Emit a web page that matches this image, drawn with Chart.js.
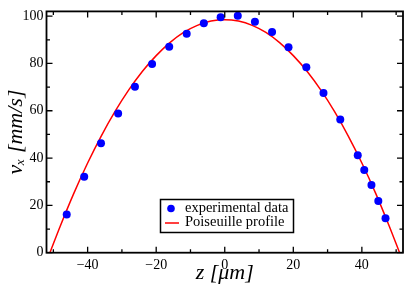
<!DOCTYPE html>
<html>
<head>
<meta charset="utf-8">
<script src="https://cdn.jsdelivr.net/npm/chart.js@4.4.1/dist/chart.umd.min.js"></script>
<style>
  html, body { margin: 0; padding: 0; background: #fff; }
  #wrap { width: 407px; height: 287px; }
</style>
</head>
<body>
<div id="wrap"><canvas id="chart" width="407" height="287"></canvas></div>
<script>
// experimental velocity profile
var zExp = [-46.1, -41.0, -36.1, -31.1, -26.2, -21.2, -16.2, -11.1, -6.1, -1.2, 3.8,
            8.8, 13.8, 18.6, 23.8, 28.8, 33.7, 38.8, 40.7, 42.8, 44.8, 46.9];
var vExp = [16.1, 32.1, 46.3, 58.8, 70.2, 79.8, 87.1, 92.5, 97.0, 99.5, 100.2,
            97.6, 93.3, 86.8, 78.4, 67.5, 56.3, 41.2, 35.0, 28.6, 21.9, 14.6];

// red Poiseuille curve, sampled along the drawn line
var zFit = [-51, -48, -44, -40, -36, -32, -28, -24, -20, -16, -12, -8, -4, 0,
            4, 8, 12, 16, 20, 24, 28, 32, 36, 40, 44, 48, 51];
var vFit = [0, 11.2, 25.2, 37.9, 49.4, 59.7, 68.8, 76.7, 83.3, 88.8, 93.1, 96.1, 97.9, 98.5,
            97.9, 96.1, 93.1, 88.8, 83.3, 76.7, 68.8, 59.7, 49.4, 37.9, 25.2, 11.2, 0];

var xTicks = [-40, -20, 0, 20, 40];
var xMinor = [-50, -30, -10, 10, 30, 50];
var yTicks = [0, 20, 40, 60, 80, 100];
var yMinor = [10, 30, 50, 70, 90];

function pts(xs, ys) {
  return xs.map(function (x, i) { return { x: x, y: ys[i] }; });
}

function fmt(v) {
  return v < 0 ? '\u2212' + Math.abs(v) : String(v);
}

// box + inward ticks on all four sides
var frame = {
  id: 'frame',
  afterDatasetsDraw: function (chart) {
    var ctx = chart.ctx, a = chart.chartArea;
    var sx = chart.scales.x, sy = chart.scales.y;
    ctx.save();
    ctx.strokeStyle = '#000';
    ctx.lineWidth = 1.3;
    function tickX(v, len) {
      var px = sx.getPixelForValue(v);
      ctx.beginPath();
      ctx.moveTo(px, a.bottom); ctx.lineTo(px, a.bottom - len);
      ctx.moveTo(px, a.top); ctx.lineTo(px, a.top + len);
      ctx.stroke();
    }
    function tickY(v, len) {
      var py = sy.getPixelForValue(v);
      ctx.beginPath();
      ctx.moveTo(a.left, py); ctx.lineTo(a.left + len, py);
      ctx.moveTo(a.right, py); ctx.lineTo(a.right - len, py);
      ctx.stroke();
    }
    xTicks.forEach(function (v) { tickX(v, 6); });
    xMinor.forEach(function (v) { tickX(v, 3.5); });
    yTicks.forEach(function (v) { tickY(v, 6); });
    yMinor.forEach(function (v) { tickY(v, 3.5); });
    ctx.lineWidth = 1.8;
    ctx.strokeRect(a.left, a.top, a.right - a.left, a.bottom - a.top);
    ctx.restore();
  }
};

// legend box inside the plot
var legendBox = {
  id: 'legendBox',
  afterDraw: function (chart) {
    var ctx = chart.ctx;
    var ds = chart.data.datasets;
    ctx.save();
    ctx.fillStyle = '#fff';
    ctx.fillRect(160.5, 199.5, 133, 33);
    ctx.strokeStyle = '#000';
    ctx.lineWidth = 1.5;
    ctx.strokeRect(160.5, 199.5, 133, 33);

    ctx.fillStyle = ds[0].backgroundColor;
    ctx.beginPath();
    ctx.arc(171, 208.5, 3.8, 0, 2 * Math.PI);
    ctx.fill();

    ctx.strokeStyle = ds[1].borderColor;
    ctx.lineWidth = 1.5;
    ctx.beginPath();
    ctx.moveTo(165, 223); ctx.lineTo(179, 223);
    ctx.stroke();

    ctx.fillStyle = '#000';
    ctx.font = '14.5px "Liberation Serif"';
    ctx.textBaseline = 'middle';
    ctx.fillText(ds[0].label, 185, 208.5);
    ctx.fillText(ds[1].label, 185, 222.5);
    ctx.restore();
  }
};

new Chart(document.getElementById('chart').getContext('2d'), {
  type: 'scatter',
  data: {
    datasets: [
      {
        label: 'experimental data',
        data: pts(zExp, vExp),
        backgroundColor: '#0000ff',
        borderWidth: 0,
        pointRadius: 4,
        pointHoverRadius: 4
      },
      {
        label: 'Poiseuille profile',
        data: pts(zFit, vFit),
        showLine: true,
        borderColor: '#ff0000',
        backgroundColor: '#ff0000',
        borderWidth: 1.5,
        pointRadius: 0,
        cubicInterpolationMode: 'monotone'
      }
    ]
  },
  options: {
    responsive: false,
    animation: false,
    events: [],
    layout: { padding: { top: 3, right: 3.5, left: 0, bottom: 0 } },
    plugins: {
      legend: { display: false },
      tooltip: { enabled: false }
    },
    scales: {
      x: {
        type: 'linear',
        min: -52,
        max: 52,
        grid: { display: false, drawTicks: false },
        border: { display: false },
        afterBuildTicks: function (s) {
          s.ticks = xTicks.map(function (v) { return { value: v }; });
        },
        afterFit: function (s) { s.height = 34.3; },
        ticks: {
          padding: 4,
          color: '#000',
          font: { family: '"Liberation Serif"', size: 14 },
          maxRotation: 0,
          callback: fmt
        },
        title: {
          display: true,
          text: 'z [\u03bcm]',
          color: '#000',
          font: { family: '"Liberation Serif"', size: 22, style: 'italic' },
          padding: { top: 0, bottom: 1 }
        }
      },
      y: {
        type: 'linear',
        min: 0,
        max: 102,
        grid: { display: false, drawTicks: false },
        border: { display: false },
        afterBuildTicks: function (s) {
          s.ticks = yTicks.map(function (v) { return { value: v }; });
        },
        afterFit: function (s) { s.width = 46.5; },
        ticks: {
          padding: 3,
          color: '#000',
          font: { family: '"Liberation Serif"', size: 14 },
          callback: fmt
        },
        title: {
          display: true,
          text: 'v\u2093 [mm/s]',
          color: '#000',
          font: { family: '"Liberation Serif"', size: 22, style: 'italic' },
          padding: { top: 3, bottom: 0 }
        }
      }
    }
  },
  plugins: [frame, legendBox]
});
</script>
</body>
</html>
